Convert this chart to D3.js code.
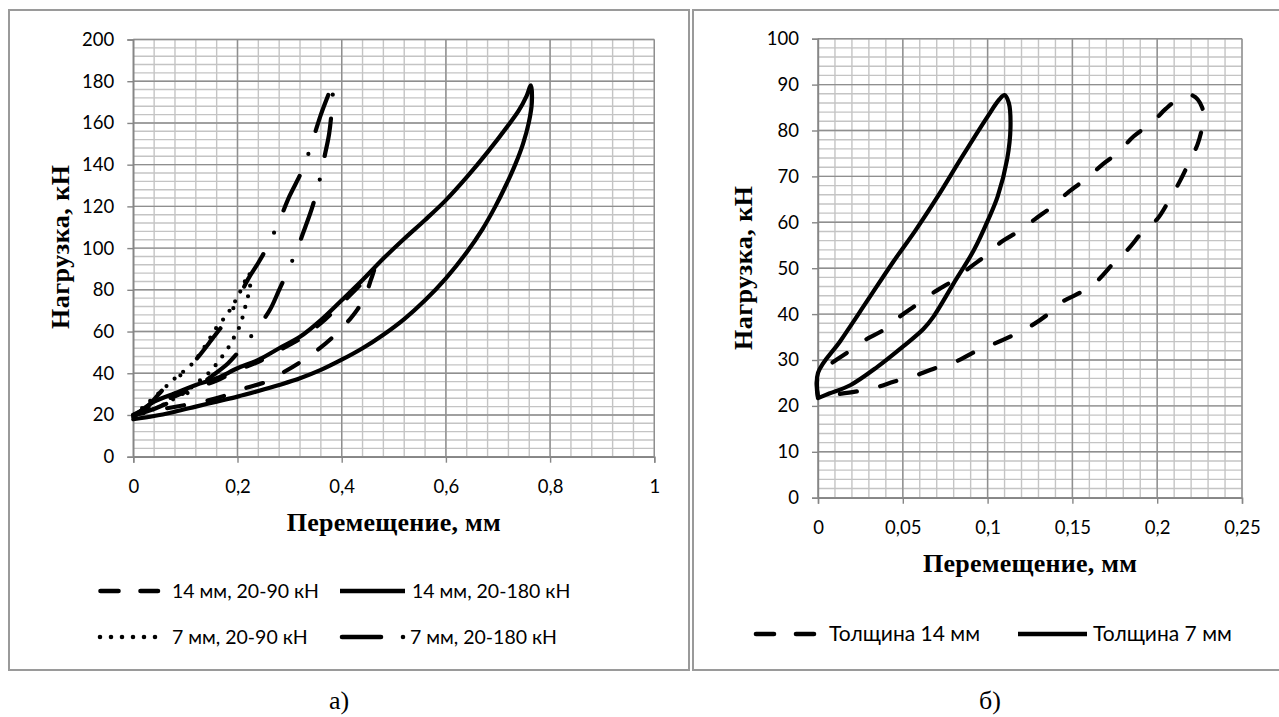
<!DOCTYPE html>
<html>
<head>
<meta charset="utf-8">
<script src="https://cdn.jsdelivr.net/npm/d3@7"></script>
<style>
  body { margin: 0; background: #fff; }
  svg { display: block; }
</style>
</head>
<body>
<svg id="chart" width="1279" height="717"></svg>
<script>
// ---------- axis ticks ----------
const leftXTicks  = [0, 0.2, 0.4, 0.6, 0.8, 1];
const leftYTicks  = [0, 20, 40, 60, 80, 100, 120, 140, 160, 180, 200];
const rightXTicks = [0, 0.05, 0.1, 0.15, 0.2, 0.25];
const rightYTicks = [0, 10, 20, 30, 40, 50, 60, 70, 80, 90, 100];

// ---------- series: [displacement, mm ; load, kN] ----------
// panel а) — 14 mm, 20-90 kN (loading, then unloading)
const s14_90 = [
  [0,20],[0.04,25],[0.08,29],[0.12,33],[0.16,36.5],[0.2,41.5],[0.24,45.5],[0.28,51],
  [0.32,56.5],[0.36,64],[0.4,73.5],[0.44,83.5],[0.462,90],
  [0.455,84],[0.445,77],[0.43,70.5],[0.416,66],[0.39,59],[0.358,52],[0.327,46.4],
  [0.29,40.7],[0.256,36],[0.214,32.8],[0.18,29.6],[0.14,26.8],[0.1,24.8],[0.06,23],[0.03,21.5],[0,20]
];
// panel а) — 14 mm, 20-180 kN
const s14_180 = [
  [0,19],[0.02,23],[0.04,26.4],[0.08,30.4],[0.12,34.4],[0.16,37.6],[0.2,42.4],[0.24,46.4],
  [0.28,52],[0.32,57.5],[0.36,65.5],[0.4,75],[0.44,84.7],[0.48,95],[0.52,104.5],[0.56,113.5],
  [0.6,123],[0.64,134],[0.68,146],[0.72,159],[0.74,166],[0.755,173],[0.763,178],
  [0.765,170],[0.759,160],[0.748,150],[0.733,140],[0.715,130],[0.695,120],[0.67,109],
  [0.64,98],[0.6,85.5],[0.56,75],[0.52,66],[0.48,58.5],[0.44,52],[0.4,46.5],[0.36,41.6],
  [0.32,37.6],[0.28,34.4],[0.24,31.5],[0.2,28.8],[0.16,26.4],[0.12,24],[0.08,21.6],[0.04,19.5],[0,18]
];
// panel а) — 7 mm, 20-90 kN
const s7_90 = [
  [0,20],[0.02,24],[0.04,28.5],[0.06,33],[0.08,37.6],[0.096,40.8],[0.114,44.8],[0.13,50],
  [0.145,56],[0.16,62],[0.178,67.5],[0.192,73],[0.205,79],[0.216,85],[0.222,88],
  [0.224,81],[0.218,75],[0.212,69],[0.205,63],[0.195,58],[0.183,52.5],[0.169,47.5],
  [0.155,43],[0.14,39],[0.12,35],[0.1,31],[0.08,28],[0.05,24],[0.02,21],[0,20]
];
// panel а) — 7 mm, 20-180 kN
const s7_180 = [
  [0,20],[0.02,22.5],[0.04,27.5],[0.064,34],[0.1,41],[0.125,48],[0.15,56],[0.18,66],
  [0.2,75],[0.22,85],[0.24,93],[0.26,102],[0.28,113],[0.3,125],[0.32,135],[0.333,143],
  [0.346,153],[0.36,164],[0.372,172],[0.38,177],[0.383,179],
  [0.382,170],[0.376,155],[0.368,145],[0.358,133],[0.344,120],[0.33,110],[0.315,100],
  [0.3,91],[0.28,80],[0.262,70.3],[0.236,61],[0.21,52.7],[0.182,44.8],[0.15,38.5],
  [0.12,33],[0.09,28.5],[0.06,25],[0.03,22],[0,20]
];
// panel б) — thickness 14 mm
const sThick14 = [
  [0,22],[0,26.5],[0.008,29.3],[0.018,31.8],[0.028,34.4],[0.0385,36.5],[0.048,39.4],[0.058,42],
  [0.069,44.9],[0.08,47.4],[0.09,50.3],[0.0995,52.9],[0.108,55.7],[0.119,58.2],[0.128,60.7],
  [0.139,63.7],[0.148,66.7],[0.159,69.7],[0.168,72.7],[0.177,75.2],[0.186,78.7],[0.197,81.7],
  [0.205,84.7],[0.214,87.2],[0.221,87.6],[0.2265,85],[0.227,82],[0.224,77.2],[0.2196,73.7],
  [0.213,68.7],[0.2076,65.2],[0.2,60.7],[0.192,58.2],[0.183,54.2],[0.1745,51.2],[0.1645,47.2],
  [0.1546,44.7],[0.1427,42.4],[0.135,39.8],[0.125,37.3],[0.115,35.4],[0.1024,33.3],
  [0.0926,31.8],[0.081,29.6],[0.069,28.2],[0.056,26.4],[0.045,25.3],[0.034,24],[0.022,23.1],[0,22]
];
// panel б) — thickness 7 mm
const sThick7 = [
  [0,21.7],[0,27.2],[0.0133,34.2],[0.0287,42.7],[0.044,51.2],[0.0574,58.2],[0.0707,65.7],
  [0.084,73.7],[0.0994,82.7],[0.107,86.8],[0.110,87.7],[0.1125,86],[0.1135,80.7],[0.1115,73.7],
  [0.106,65.7],[0.1005,60.7],[0.092,54],[0.08,46.7],[0.068,39.4],[0.062,36.7],
  [0.05,32.9],[0.035,28.5],[0.019,24.5],[0.0066,22.7],[0,21.7]
];

// ---------- legend labels ----------
const leftLegendLabels  = ["14 мм, 20-90 кН", "14 мм, 20-180 кН", "7 мм, 20-90 кН", "7 мм, 20-180 кН"];
const rightLegendLabels = ["Толщина 14 мм", "Толщина 7 мм"];
const xTitle = "Перемещение, мм";
const yTitle = "Нагрузка, кН";
const panelLetters = ["а)", "б)"];

// ---------- line styles ----------
const STYLE = {
  dash:    { dash: "17,24" },
  solid:   { dash: null },
  dot:     { dash: "0,11" },
  dashdot: { dash: "38,24,0,24" }
};

const svg = d3.select("#chart");
const TICK_FONT = "Lato, 'Open Sans', sans-serif";
const TITLE_FONT = "'Liberation Serif', 'Times New Roman', serif";
const fmt = d => d3.format("~g")(d).replace(".", ",");

function frame(x0, y0, x1, y1) {
  svg.append("rect")
    .attr("x", x0).attr("y", y0).attr("width", x1 - x0).attr("height", y1 - y0)
    .attr("fill", "none").attr("stroke", "#9a9a9a").attr("stroke-width", 2);
}

function drawPanel(cfg) {
  const x = d3.scaleLinear().domain([0, cfg.xMax]).range([cfg.left, cfg.right]);
  const y = d3.scaleLinear().domain([0, cfg.yMax]).range([cfg.bottom, cfg.top]);
  const g = svg.append("g");

  // minor grid
  const xMinor = d3.range(0, cfg.xMax + 1e-9, cfg.xMinor);
  const yMinor = d3.range(0, cfg.yMax + 1e-9, cfg.yMinor);
  g.append("g").selectAll("line").data(xMinor).join("line")
    .attr("x1", d => x(d)).attr("x2", d => x(d))
    .attr("y1", cfg.top).attr("y2", cfg.bottom)
    .attr("stroke", "#c4c4c4").attr("stroke-width", 1.4);
  g.append("g").selectAll("line").data(yMinor).join("line")
    .attr("x1", cfg.left).attr("x2", cfg.right)
    .attr("y1", d => y(d)).attr("y2", d => y(d))
    .attr("stroke", "#c4c4c4").attr("stroke-width", 1.4);

  // major grid
  g.append("g").selectAll("line").data(cfg.xTicks).join("line")
    .attr("x1", d => x(d)).attr("x2", d => x(d))
    .attr("y1", cfg.top).attr("y2", cfg.bottom)
    .attr("stroke", "#8f8f8f").attr("stroke-width", 1.4);
  g.append("g").selectAll("line").data(cfg.yTicks).join("line")
    .attr("x1", cfg.left).attr("x2", cfg.right)
    .attr("y1", d => y(d)).attr("y2", d => y(d))
    .attr("stroke", "#8f8f8f").attr("stroke-width", 1.4);

  // axes
  const ax = g.append("g").attr("transform", `translate(0,${cfg.bottom})`)
    .call(d3.axisBottom(x).tickValues(cfg.xTicks).tickSize(6).tickPadding(17).tickFormat(fmt));
  const ay = g.append("g").attr("transform", `translate(${cfg.left},0)`)
    .call(d3.axisLeft(y).tickValues(cfg.yTicks).tickSize(6).tickPadding(13).tickFormat(fmt));
  [ax, ay].forEach(a => {
    a.select(".domain").attr("stroke", "#868686").attr("stroke-width", 1.4);
    a.selectAll(".tick line").attr("stroke", "#868686").attr("stroke-width", 1.4);
    a.selectAll(".tick text").attr("fill", "#000")
      .style("font-family", TICK_FONT).style("font-size", "18.5px");
  });

  // axis titles
  g.append("text")
    .attr("x", (cfg.left + cfg.right) / 2).attr("y", cfg.bottom + 74)
    .attr("text-anchor", "middle")
    .attr("textLength", 214).attr("lengthAdjust", "spacing")
    .style("font-family", TITLE_FONT).style("font-weight", "bold").style("font-size", "26px")
    .text(xTitle);
  g.append("text")
    .attr("transform", `translate(${cfg.yTitleX},${cfg.yTitleY}) rotate(-90)`)
    .attr("text-anchor", "middle")
    .attr("textLength", 164).attr("lengthAdjust", "spacing")
    .style("font-family", TITLE_FONT).style("font-weight", "bold").style("font-size", "26px")
    .text(yTitle);

  // curves
  const line = d3.line().x(d => x(d[0])).y(d => y(d[1])).curve(d3.curveCatmullRom.alpha(0.5));
  cfg.series.forEach(s => {
    g.append("path").datum(s.data)
      .attr("d", line)
      .attr("fill", "none").attr("stroke", "#000").attr("stroke-width", 4.2)
      .attr("stroke-linecap", "round").attr("stroke-linejoin", "round")
      .attr("stroke-dasharray", STYLE[s.style].dash);
  });

  // legend
  cfg.legend.forEach(l => {
    g.append("line")
      .attr("x1", l.x1).attr("x2", l.x2).attr("y1", l.y).attr("y2", l.y)
      .attr("stroke", "#000").attr("stroke-width", 4.6)
      .attr("stroke-linecap", l.style === "solid" ? "butt" : "round")
      .attr("stroke-dasharray", l.dash || STYLE[l.style].dash);
    g.append("text")
      .attr("x", l.tx).attr("y", l.y + 7)
      .style("font-family", TICK_FONT).style("font-size", cfg.legendSize)
      .text(l.label);
  });
}

// frames
frame(9, 10, 689, 670);
frame(693, 10, 1285, 670);

drawPanel({
  left: 133.3, right: 654.3, top: 39.5, bottom: 456.7,
  xMax: 1, yMax: 200, xMinor: 0.04, yMinor: 4,
  xTicks: leftXTicks, yTicks: leftYTicks,
  yTitleX: 69, yTitleY: 247,
  legendSize: "19.5px",
  series: [
    { data: s14_180, style: "solid" },
    { data: s14_90,  style: "dash" },
    { data: s7_90,   style: "dot" },
    { data: s7_180,  style: "dashdot" }
  ],
  legend: [
    { x1: 100.5, x2: 158, y: 591, style: "dash", dash: "18,22", tx: 172, label: leftLegendLabels[0] },
    { x1: 340,   x2: 405, y: 591, style: "solid", tx: 412, label: leftLegendLabels[1] },
    { x1: 100,   x2: 156, y: 637, style: "dot", dash: "0,11", tx: 172, label: leftLegendLabels[2] },
    { x1: 342,   x2: 404, y: 637, style: "dashdot", dash: "39,22,0,30", tx: 410, label: leftLegendLabels[3] }
  ]
});

drawPanel({
  left: 818, right: 1242, top: 38.7, bottom: 497.7,
  xMax: 0.25, yMax: 100, xMinor: 0.01, yMinor: 2,
  xTicks: rightXTicks, yTicks: rightYTicks,
  yTitleX: 752, yTitleY: 268,
  legendSize: "21px",
  series: [
    { data: sThick14, style: "dash" },
    { data: sThick7,  style: "solid" }
  ],
  legend: [
    { x1: 756, x2: 815, y: 634, style: "dash", dash: "18,22", tx: 829, label: rightLegendLabels[0] },
    { x1: 1018, x2: 1087, y: 634, style: "solid", tx: 1093, label: rightLegendLabels[1] }
  ]
});

// panel letters
svg.selectAll("text.letter").data([[339, panelLetters[0]], [990, panelLetters[1]]]).join("text")
  .attr("class", "letter")
  .attr("x", d => d[0]).attr("y", 709)
  .attr("text-anchor", "middle")
  .style("font-family", TITLE_FONT).style("font-size", "26px")
  .text(d => d[1]);
</script>
</body>
</html>
